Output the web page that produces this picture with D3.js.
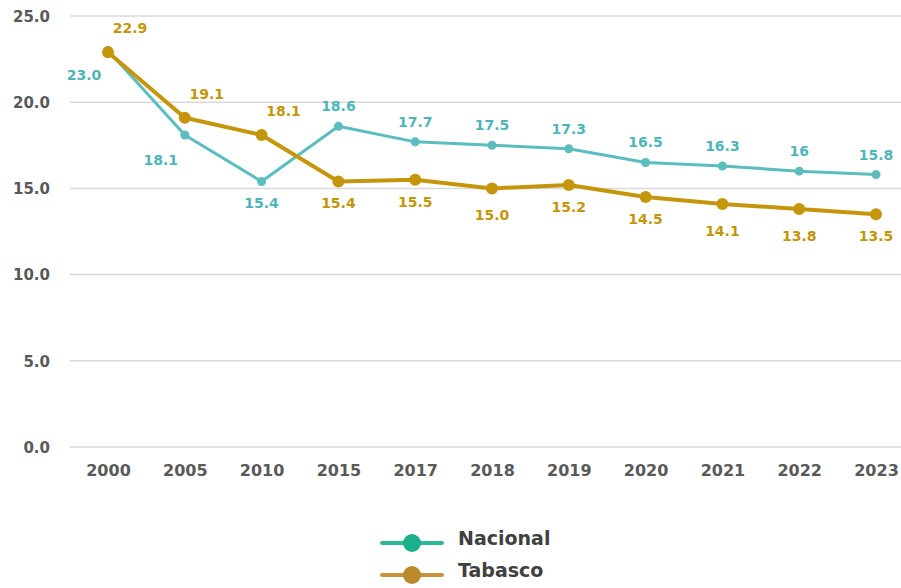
<!DOCTYPE html>
<html><head><meta charset="utf-8">
<script src="https://cdn.jsdelivr.net/npm/d3@7"></script>
<style>body{margin:0;background:#fff;}svg{display:block;font-family:"DejaVu Sans",Verdana,sans-serif;}</style>
</head><body>
<svg id="c" width="901" height="588"></svg>
<script>
const years = ["2000","2005","2010","2015","2017","2018","2019","2020","2021","2022","2023"];
const nacional = [23.0,18.1,15.4,18.6,17.7,17.5,17.3,16.5,16.3,16.0,15.8];
const nacionalLabels = ["23.0","18.1","15.4","18.6","17.7","17.5","17.3","16.5","16.3","16","15.8"];
const tabasco = [22.9,19.1,18.1,15.4,15.5,15.0,15.2,14.5,14.1,13.8,13.5];
const tabascoLabels = ["22.9","19.1","18.1","15.4","15.5","15.0","15.2","14.5","14.1","13.8","13.5"];
const yTicks = [0,5,10,15,20,25];
// label placement codes (style)
const nacPlace = ["lb","lb","b","a","a","a","a","a","a","a","a"];
const tabPlace = ["ra","ra","ra","b","b","b2","b","b","b2","b2","b"];
const placeOff = {lb:[-24,25],b:[0,22],a:[0,-20],ra:[22,-24],b2:[0,27]};

const svg = d3.select("#c");
const x = d3.scalePoint().domain(years).range([108,876]);
const y = d3.scaleLinear().domain([0,25]).range([447,16]);

// gridlines
svg.append("g").selectAll("line").data(yTicks).join("line")
  .attr("x1",70).attr("x2",901).attr("y1",d=>y(d)).attr("y2",d=>y(d))
  .attr("stroke","#d9d9d9").attr("stroke-width",1.5);

// y axis labels
const yAxis = d3.axisLeft(y).tickValues(yTicks).tickFormat(d3.format(".1f")).tickSize(0).tickPadding(0);
const ya = svg.append("g").attr("transform","translate(50,0)").call(yAxis);
ya.select(".domain").remove();
ya.selectAll("text").attr("fill","#595959").attr("font-size",15).attr("font-weight","bold")
  .attr("font-family","DejaVu Sans, sans-serif").attr("dy","0.35em");

// x axis labels
const xAxis = d3.axisBottom(x).tickSize(0).tickPadding(0);
const xa = svg.append("g").attr("transform","translate(0,465)").call(xAxis);
xa.select(".domain").remove();
xa.selectAll("text").attr("fill","#595959").attr("font-size",16).attr("font-weight","bold")
  .attr("font-family","DejaVu Sans, sans-serif");

const line = d3.line().x((d,i)=>x(years[i])).y(d=>y(d));

function series(vals, labels, place, color, lw, r, labelColor){
  svg.append("path").datum(vals).attr("d",line).attr("fill","none")
    .attr("stroke",color).attr("stroke-width",lw).attr("stroke-linejoin","round");
  svg.append("g").selectAll("circle").data(vals).join("circle")
    .attr("cx",(d,i)=>x(years[i])).attr("cy",d=>y(d)).attr("r",r).attr("fill",color);
  svg.append("g").selectAll("text").data(vals).join("text")
    .attr("x",(d,i)=>x(years[i])+placeOff[place[i]][0])
    .attr("y",(d,i)=>y(d)+placeOff[place[i]][1])
    .attr("dy","0.35em").attr("text-anchor","middle")
    .attr("fill",labelColor).attr("font-size",14).attr("font-weight","bold")
    .text((d,i)=>labels[i]);
}
series(nacional, nacionalLabels, nacPlace, "#5BBDBE", 3, 4.5, "#4DB6B8");
series(tabasco, tabascoLabels, tabPlace, "#C5960C", 4, 6, "#C3960A");

// legend
const legend = [{name:"Nacional",color:"#1BAF8C",line:"#2EB894"},{name:"Tabasco",color:"#B98A2C",line:"#C9923A"}];
const lg = svg.append("g").selectAll("g").data(legend).join("g")
  .attr("transform",(d,i)=>`translate(0,${543+i*32})`);
lg.append("line").attr("x1",382).attr("x2",442).attr("y1",0).attr("y2",0)
  .attr("stroke",d=>d.line).attr("stroke-width",4).attr("stroke-linecap","round");
lg.append("circle").attr("cx",412).attr("cy",0).attr("r",9).attr("fill",d=>d.color);
lg.append("text").attr("x",458).attr("y",-5).attr("dy","0.35em")
  .attr("fill","#404040").attr("font-size",19).attr("font-weight","bold")
  .text(d=>d.name);
</script>
</body></html>
